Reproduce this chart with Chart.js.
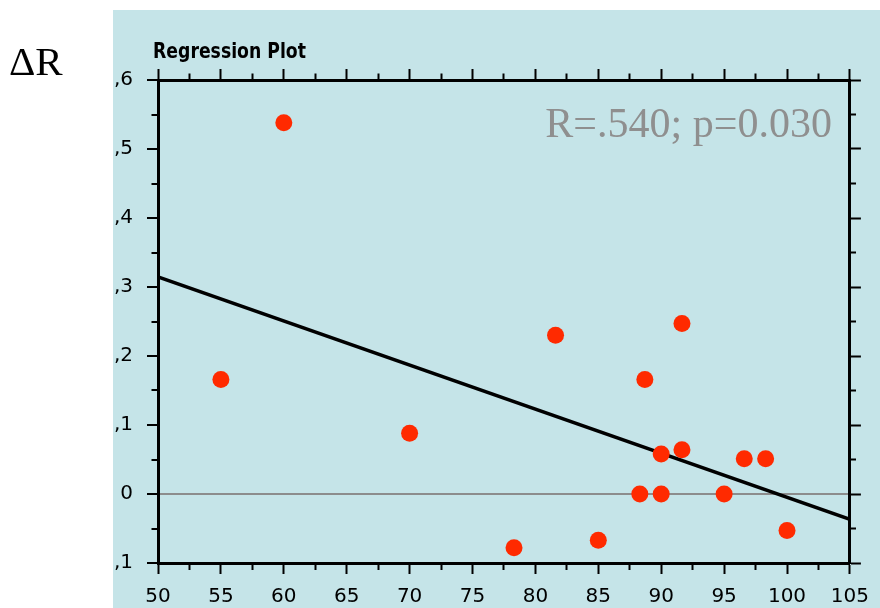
<!DOCTYPE html>
<html>
<head>
<meta charset="utf-8">
<script src="https://cdn.jsdelivr.net/npm/chart.js@4"></script>
<style>
  body { margin: 0; background: #fff; }
  #chart { display: block; }
</style>
</head>
<body>
<canvas id="chart" width="880" height="608"></canvas>
<script>
// measured pairs (x, ΔR)
const pointX = [55, 60, 70, 78.3, 81.6, 85, 88.3, 88.7, 90, 90, 91.65, 91.65, 95, 96.6, 98.3, 100];
const pointY = [0.166, 0.538, 0.088, -0.078, 0.230, -0.067, 0, 0.166, 0.058, 0, 0.247, 0.064, 0, 0.051, 0.051, -0.053];

// fitted line end points
const fitX = [50, 105];
const fitY = [0.3147, -0.0366];

const xRange = [50, 105];
const yRange = [-0.1, 0.6];

const titleText = 'Regression Plot';
const axisText = 'ΔR';
const statText = 'R=.540; p=0.030';

const panelColor = '#c5e4e8';
const dotColor = '#ff2a00';

Chart.defaults.font.family = '"DejaVu Sans", sans-serif';
Chart.defaults.color = '#000';

function isMajorX(v) { return Math.round(v * 10) % 50 === 0; }
function isMajorY(v) { return Math.round(v * 100) % 10 === 0; }

// tick marks: majors full length, minors half length next to the axis line
const outwardMinor = [5, 100];
const inwardMinor = [0, 4.5, 100];

function axisBase(pos, stepSize, isMajor, minorDash) {
  return {
    type: 'linear',
    position: pos,
    border: { display: true, color: '#000', width: 3 },
    grid: {
      drawOnChartArea: false,
      tickLength: 11,
      tickWidth: 2,
      tickColor: '#000',
      tickBorderDash: ctx => (isMajor(ctx.tick.value) ? [] : minorDash)
    },
    ticks: { stepSize: stepSize, autoSkip: false, maxRotation: 0 }
  };
}

const xAxis = axisBase('bottom', 2.5, isMajorX, outwardMinor);
xAxis.min = xRange[0]; xAxis.max = xRange[1];
xAxis.ticks.padding = 11;
xAxis.ticks.font = { size: 20 };
xAxis.ticks.callback = v => (isMajorX(v) ? String(v) : '');
xAxis.afterFit = s => { s.height = 45; };

const xTop = axisBase('top', 2.5, isMajorX, inwardMinor);
xTop.min = xRange[0]; xTop.max = xRange[1];
xTop.ticks.display = false;
xTop.afterFit = s => { s.height = 20; };

const yAxis = axisBase('left', 0.05, isMajorY, inwardMinor);
yAxis.min = yRange[0]; yAxis.max = yRange[1];
yAxis.ticks.padding = 14;
yAxis.ticks.font = { size: 20 };
yAxis.ticks.callback = v => {
  const k = Math.round(v * 100);
  if (k % 10 !== 0) return '';
  return k === 0 ? '0' : ',' + Math.abs(k / 10);
};
// light grey reference line at zero
yAxis.grid.drawOnChartArea = true;
yAxis.grid.lineWidth = 2;
yAxis.grid.color = ctx => (Math.round(ctx.tick.value * 100) === 0 ? '#8c8c8c' : 'rgba(0,0,0,0)');
yAxis.afterFit = s => { s.width = 45; };

const yRight = axisBase('right', 0.05, isMajorY, outwardMinor);
yRight.min = yRange[0]; yRight.max = yRange[1];
yRight.ticks.display = false;
yRight.afterFit = s => { s.width = 30; };

const panelPlugin = {
  id: 'panel',
  beforeDraw(chart) {
    const ctx = chart.ctx;
    ctx.save();
    ctx.fillStyle = panelColor;
    ctx.fillRect(113, 10, chart.width - 113, chart.height - 10);
    ctx.restore();
  },
  afterDraw(chart) {
    const ctx = chart.ctx;
    const area = chart.chartArea;
    ctx.save();
    ctx.textBaseline = 'alphabetic';

    ctx.fillStyle = '#000';
    ctx.font = '41px "Liberation Serif", serif';
    ctx.textAlign = 'left';
    ctx.fillText(axisText, 9, 75);

    // title is a narrow bold face, squeeze the glyphs to the measured width
    ctx.font = 'bold 21px "DejaVu Sans", sans-serif';
    const w = ctx.measureText(titleText).width;
    ctx.translate(area.left - 5, 58);
    ctx.scale(153 / w, 1);
    ctx.fillText(titleText, 0, 0);
    ctx.setTransform(1, 0, 0, 1, 0, 0);

    ctx.fillStyle = '#8f8f8f';
    ctx.font = '42px "Liberation Serif", serif';
    ctx.textAlign = 'right';
    ctx.fillText(statText, area.right - 18, 137);
    ctx.restore();
  }
};

new Chart(document.getElementById('chart'), {
  type: 'scatter',
  data: {
    datasets: [
      {
        label: 'ΔR',
        data: pointX.map((x, i) => ({ x: x, y: pointY[i] })),
        backgroundColor: dotColor,
        borderColor: dotColor,
        borderWidth: 0,
        pointRadius: 8.5,
        pointHoverRadius: 8.5
      },
      {
        type: 'line',
        label: 'fit',
        data: fitX.map((x, i) => ({ x: x, y: fitY[i] })),
        borderColor: '#000',
        borderWidth: 3.5,
        pointRadius: 0,
        fill: false
      }
    ]
  },
  options: {
    responsive: false,
    animation: false,
    layout: { padding: { left: 113, top: 60, right: 0, bottom: 0 } },
    plugins: {
      legend: { display: false },
      tooltip: { enabled: false }
    },
    scales: { x: xAxis, x2: xTop, y: yAxis, y2: yRight }
  },
  plugins: [panelPlugin]
});
</script>
</body>
</html>
